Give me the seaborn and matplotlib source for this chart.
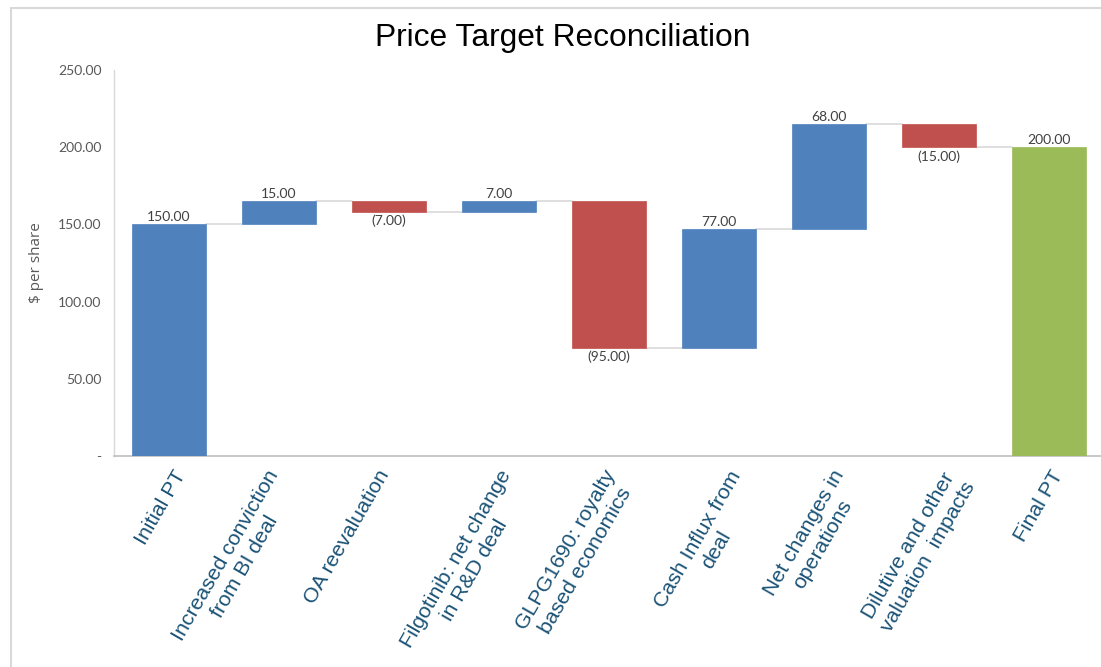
import matplotlib
matplotlib.use("Agg")

import matplotlib.pyplot as plt
import matplotlib.transforms as mtransforms
import numpy as np
import pandas as pd
import seaborn as sns
from matplotlib.patches import Rectangle

# ── Data ────────────────────────────────────────────────────────
categories = [
    "Initial PT",
    "Increased conviction\nfrom BI deal",
    "OA reevaluation",
    "Filgotinib: net change\nin R&D deal",
    "GLPG1690: royalty\nbased economics",
    "Cash Influx from\ndeal",
    "Net changes in\noperations",
    "Dilutive and other\nvaluation  impacts",
    "Final PT",
]
changes = [150.0, 15.0, -7.0, 7.0, -95.0, 77.0, 68.0, -15.0, 200.0]
kinds = ["total", "step", "step", "step", "step", "step", "step", "step", "total"]
y_ticks = [0, 50, 100, 150, 200, 250]

BLUE = "#4F81BD"
RED = "#C0504D"
GREEN = "#9BBB59"
GRAY_TEXT = "#595959"
LABEL_BLUE = "#1A5276"

# small horizontal nudges (px) so the rotated labels sit like Excel's
label_nudge = [4, -13, -12, -1, -6, 9, 2, 4, 1]

# ── Waterfall geometry ──────────────────────────────────────────
bottoms, tops, levels, colors = [], [], [], []
running = 0.0
for i, (val, kind) in enumerate(zip(changes, kinds)):
    if kind == "total":
        lo, hi = 0.0, val
        running = val
        colors.append(BLUE if i == 0 else GREEN)
    else:
        start = running
        running = running + val
        lo, hi = min(start, running), max(start, running)
        colors.append(BLUE if val >= 0 else RED)
    bottoms.append(lo)
    tops.append(hi)
    levels.append(running)

df = pd.DataFrame({
    "category": categories,
    "height": np.array(tops) - np.array(bottoms),
    "bottom": bottoms,
})

# ── Plot ────────────────────────────────────────────────────────
sns.set_style("white")
fig = plt.figure(figsize=(11.01, 6.67), dpi=100)
ax = fig.add_axes([114 / 1101, 1 - 456 / 667, 990 / 1101, 386 / 667])

sns.barplot(
    data=df, x="category", y="height", order=categories,
    bottom=df["bottom"].values, width=0.68, color=BLUE,
    errorbar=None, ax=ax, zorder=3,
)
for patch, c in zip(ax.patches, colors):
    patch.set_facecolor(c)
    patch.set_edgecolor(c)
    patch.set_linewidth(0.5)

# connectors between bars
half = 0.34
for i in range(len(categories) - 1):
    ax.plot([i + half, i + 1 - half], [levels[i], levels[i]],
            color="#D9D9D9", lw=1.2, zorder=2)

# data labels
for i, (val, kind) in enumerate(zip(changes, kinds)):
    if kind == "total" or val >= 0:
        ax.annotate(f"{abs(val):.2f}", (i, tops[i]), xytext=(0, 1),
                    textcoords="offset points", ha="center", va="bottom",
                    fontsize=10, color="#404040", family="Lato")
    else:
        ax.annotate(f"({abs(val):.2f})", (i, bottoms[i]), xytext=(0, -2),
                    textcoords="offset points", ha="center", va="top",
                    fontsize=10, color="#404040", family="Lato")

ax.set_xlim(-0.5, len(categories) - 0.5)
ax.set_ylim(0, 250)
ax.set_yticks(y_ticks)
ax.set_yticklabels(["-" if t == 0 else f"{t:.2f}" for t in y_ticks],
                   fontsize=10, color=GRAY_TEXT, family="Lato")
ax.tick_params(axis="y", length=0, pad=9)
ax.tick_params(axis="x", length=0, pad=8)
ax.set_xticks(range(len(categories)))
ax.set_xticklabels(categories, rotation=60, ha="right", rotation_mode="anchor",
                   fontsize=15.3, color=LABEL_BLUE, family="Liberation Sans",
                   multialignment="center")
for lab, dx in zip(ax.get_xticklabels(), label_nudge):
    offset = mtransforms.ScaledTranslation(dx / 100, 0, fig.dpi_scale_trans)
    lab.set_transform(lab.get_transform() + offset)
ax.set_xlabel("")
ax.set_ylabel("$ per share", fontsize=11, color=GRAY_TEXT, family="Open Sans",
              labelpad=10)

for side in ["top", "right"]:
    ax.spines[side].set_visible(False)
ax.spines["left"].set_color("#D9D9D9")
ax.spines["bottom"].set_color("#BFBFBF")
ax.spines["left"].set_linewidth(1.0)
ax.spines["bottom"].set_linewidth(1.2)

fig.text(563 / 1101, 1 - 38 / 667, "Price Target Reconciliation",
         ha="center", va="center", fontsize=22.9, family="Liberation Sans",
         color="black")

# chart-area border (top and left edges show in the crop)
fig.patches.append(Rectangle((11 / 1101, -0.05), 1.1, 1 - 8 / 667 + 0.05,
                             transform=fig.transFigure, fill=False,
                             edgecolor="#D9D9D9", lw=1.5))

fig.savefig("out.png", dpi=100)
